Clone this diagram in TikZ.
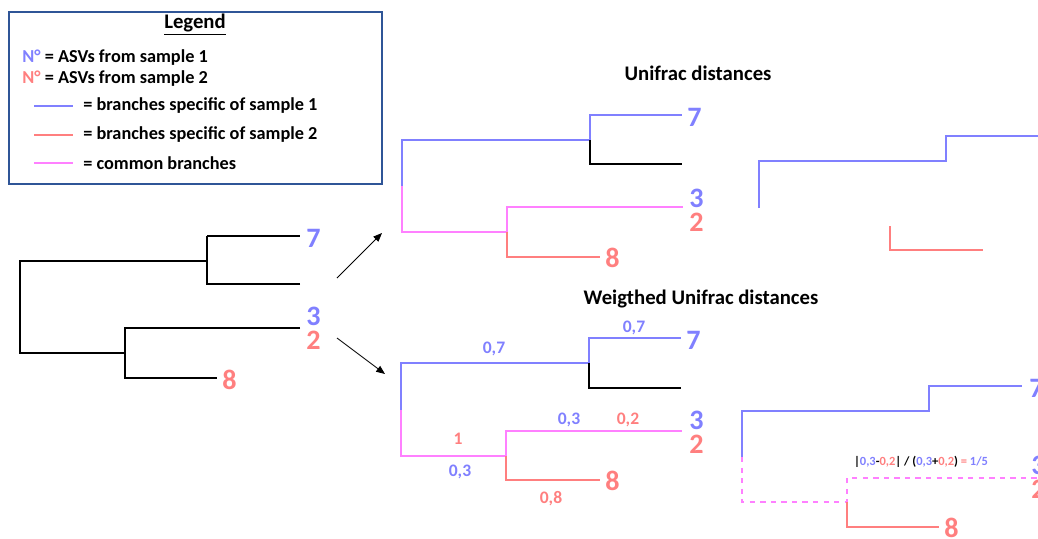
\documentclass[tikz,border=0pt]{standalone}
\usepackage{fontspec}
\setmainfont{Carlito}
\usetikzlibrary{arrows.meta}
\definecolor{sblue}{HTML}{8080FF}
\definecolor{sred}{HTML}{FF7F7F}
\definecolor{spink}{HTML}{FF80FF}
\definecolor{legframe}{HTML}{2F5597}
\tikzset{
  br/.style={line width=1.2pt},
  leaf/.style={font=\fontsize{16}{16}\selectfont\bfseries, anchor=west, inner sep=0pt},
  wlab/.style={font=\fontsize{10}{10}\selectfont\bfseries, inner sep=0pt},
  title/.style={font=\fontsize{11.8}{11.8}\selectfont\bfseries, inner sep=0pt},
  legtext/.style={font=\fontsize{10.4}{10.4}\selectfont\bfseries, anchor=west, inner sep=0pt}
}
\begin{document}
\begin{tikzpicture}[x=0.02cm,y=-0.02cm]
\useasboundingbox (0,0) rectangle (1038,538);

% legend
\draw[legframe, line width=0.6pt] (9,12) rectangle (382,184);
\node[title] (legtitle) at (195,25) {\underline{Legend}};
\node[legtext] (leg1) at (22,58) {\textcolor{sblue}{N°} = ASVs from sample 1};
\node[legtext] (leg2) at (22,79) {\textcolor{sred}{N°} = ASVs from sample 2};
\draw[sblue, line width=0.9pt] (34,106) -- (73,106);
\node[legtext] (leg3) at (83,106) {= branches specific of sample 1};
\draw[sred, line width=0.9pt] (34,135) -- (73,135);
\node[legtext] (leg4) at (83,135) {= branches specific of sample 2};
\draw[spink, line width=0.9pt] (34,163) -- (73,163);
\node[legtext] (leg5) at (83,163) {= common branches};

% starting tree
\draw[br] (207,236) -- (300,236);
\draw[br] (300,284) -- (207,284) -- (207,236);
\draw[br] (207,261) -- (20,261) -- (20,353) -- (125,353);
\draw[br] (300,328) -- (125,328) -- (125,378) -- (217,378);
\node[leaf, sblue] (t7) at (306,238) {7};
\node[leaf, sblue] (t3) at (306,316) {3};
\node[leaf, sred] (t2) at (306,340) {2};
\node[leaf, sred] (t8) at (222,380) {8};

% arrows
\coordinate (a1s) at (337,278);
\coordinate (a1e) at (382,233);
\coordinate (a2s) at (337,338);
\coordinate (a2e) at (385,374);
\draw[-{Triangle[length=5pt,width=4pt]}, line width=0.5pt] (a1s) -- (a1e);
\draw[-{Triangle[length=5pt,width=4pt]}, line width=0.5pt] (a2s) -- (a2e);

% unifrac tree
\node[title] (uni) at (698,73) {Unifrac distances};
\draw[br, sblue] (402,186) -- (402,140) -- (590,140) -- (590,115) -- (682,115);
\draw[br] (590,140) -- (590,164) -- (682,164);
\draw[br, spink] (402,186) -- (402,232) -- (507,232) -- (507,207) -- (683,207);
\draw[br, sred] (507,232) -- (507,257) -- (600,257);
\node[leaf, sblue] (u7) at (687,117) {7};
\node[leaf, sblue] (u3) at (689,198) {3};
\node[leaf, sred] (u2) at (689,222) {2};
\node[leaf, sred] (u8) at (605,258) {8};

% unifrac, right part
\draw[br, sblue] (759,208) -- (759,161) -- (946,161) -- (946,136) -- (1040,136);
\draw[br, sred] (890,226) -- (890,250) -- (983,250);

% weighted unifrac tree
\node[title] (wuni) at (701,299) {Weigthed Unifrac distances};
\draw[br, sblue] (401,410) -- (401,363) -- (589,363) -- (589,338) -- (681,338);
\draw[br] (589,363) -- (589,388) -- (681,388);
\draw[br, spink] (401,410) -- (401,456) -- (506,456) -- (506,431) -- (682,431);
\draw[br, sred] (506,456) -- (506,480) -- (600,480);
\node[leaf, sblue] (w7) at (686,340) {7};
\node[leaf, sblue] (w3) at (689,420) {3};
\node[leaf, sred] (w2) at (689,444) {2};
\node[leaf, sred] (w8) at (605,481) {8};
\node[wlab, sblue] (l1) at (494,349) {0,7};
\node[wlab, sblue] (l2) at (634,328) {0,7};
\node[wlab, sred] (l3) at (458,439) {1};
\node[wlab, sblue] (l4) at (460,472) {0,3};
\node[wlab, sblue] (l5) at (569,420) {0,3};
\node[wlab, sred] (l6) at (628,420) {0,2};
\node[wlab, sred] (l7) at (551,499) {0,8};

% weighted unifrac, right part
\draw[br, sblue] (742,457) -- (742,411) -- (929,411) -- (929,386) -- (1022,386);
\draw[br, spink, dashed] (742,457) -- (742,502) -- (847,502) -- (847,478) -- (1040,478);
\draw[br, sred] (847,502) -- (847,527) -- (939,527);
\node[leaf, sblue] (r7) at (1029,388) {7};
\node[leaf, sblue] (r3) at (1031,465) {3};
\node[leaf, sred] (r2) at (1031,489) {2};
\node[leaf, sred] (r8) at (944,528) {8};
\node[font=\fontsize{7.1}{7.1}\selectfont\bfseries, inner sep=0pt] (frac) at (921,462)
  {|\textcolor{sblue}{0,3}-\textcolor{sred}{0,2}| / (\textcolor{sblue}{0,3}+\textcolor{sred}{0,2}) \textcolor{sred}{=} \textcolor{sblue}{1/5}};
\end{tikzpicture}
\end{document}
